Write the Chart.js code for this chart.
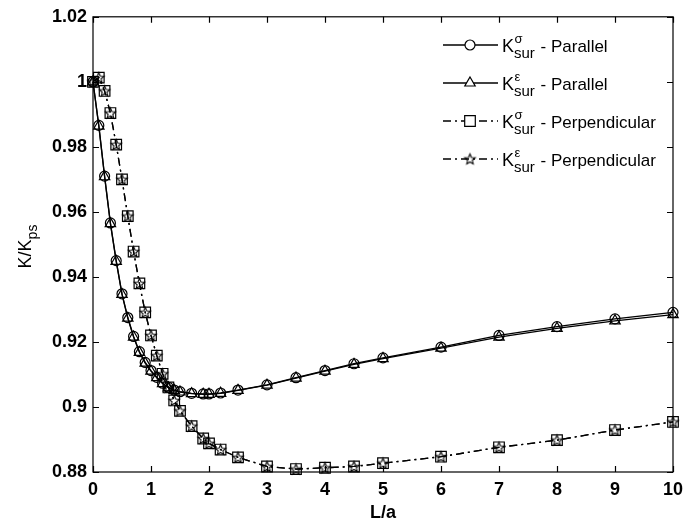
<!DOCTYPE html>
<html>
<head>
<meta charset="utf-8">
<script src="https://cdn.jsdelivr.net/npm/chart.js@4/dist/chart.umd.min.js"></script>
<style>
  html, body { margin: 0; padding: 0; background: #fff; }
  #wrap { position: relative; width: 694px; height: 521px; }
</style>
</head>
<body>
<div id="wrap"><canvas id="kChart" width="694" height="521"></canvas></div>
<script>
// L/a positions shared by all four curves
const xs = [0, 0.1, 0.2, 0.3, 0.4, 0.5, 0.6, 0.7, 0.8, 0.9, 1.0, 1.1, 1.2, 1.3, 1.4,
            1.5, 1.7, 1.9, 2.0, 2.2, 2.5, 3, 3.5, 4, 4.5, 5, 6, 7, 8, 9, 10];

// K/Kps values
const sigmaParallel = [1.0, 0.9866, 0.971, 0.9566, 0.945, 0.9348, 0.9275, 0.9217, 0.917, 0.9137,
                       0.9112, 0.9091, 0.9073, 0.906, 0.9052, 0.9047, 0.9042, 0.904, 0.904, 0.9043,
                       0.9052, 0.9068, 0.909, 0.9112, 0.9133, 0.9151, 0.9184, 0.922, 0.9247, 0.9271, 0.9291];
const epsParallel = [1.0, 0.9864, 0.9708, 0.9564, 0.9448, 0.9346, 0.9273, 0.9215, 0.9168, 0.9135,
                     0.911, 0.909, 0.9072, 0.9059, 0.9051, 0.9046, 0.9041, 0.9039, 0.9039, 0.9042,
                     0.9051, 0.9067, 0.9089, 0.911, 0.9131, 0.9149, 0.9181, 0.9215, 0.9242, 0.9265, 0.9284];
const sigmaPerp = [1.0, 1.0013, 0.9972, 0.9904, 0.9807, 0.970, 0.9587, 0.9478, 0.938, 0.9291,
                   0.922, 0.9158, 0.9102, 0.906, 0.902, 0.8988, 0.8941, 0.8903, 0.8888, 0.8869,
                   0.8845, 0.8817, 0.8809, 0.8813, 0.8817, 0.8827, 0.8847, 0.8876, 0.8898, 0.8929, 0.8954];
const epsPerp = [1.0, 1.0013, 0.9972, 0.9904, 0.9807, 0.970, 0.9587, 0.9478, 0.938, 0.9291,
                 0.922, 0.9158, 0.9102, 0.906, 0.902, 0.8988, 0.8941, 0.8903, 0.8888, 0.8869,
                 0.8845, 0.8817, 0.8809, 0.8813, 0.8817, 0.8827, 0.8847, 0.8876, 0.8898, 0.8929, 0.8954];

const xTicks = [0, 1, 2, 3, 4, 5, 6, 7, 8, 9, 10];
const yTicks = [0.88, 0.9, 0.92, 0.94, 0.96, 0.98, 1, 1.02];

const DASH_DOT = [8, 4, 2, 4];
const tickFont = { family: "'Liberation Sans', Arial, sans-serif", size: 18, weight: 'bold' };

// open five-pointed star marker (Chart.js 'star' is an asterisk)
function makeStar(r) {
    const size = Math.ceil(r * 2 + 4);
    const c = document.createElement('canvas');
    c.width = size; c.height = size;
    const g = c.getContext('2d');
    const cx = size / 2, cy = size / 2 + 0.5;
    g.beginPath();
    for (let i = 0; i < 10; i++) {
        const rad = i % 2 === 0 ? r : r * 0.45;
        const ang = -Math.PI / 2 + i * Math.PI / 5;
        const px = cx + rad * Math.cos(ang), py = cy + rad * Math.sin(ang);
        if (i === 0) g.moveTo(px, py); else g.lineTo(px, py);
    }
    g.closePath();
    g.strokeStyle = '#000';
    g.lineWidth = 1.1;
    g.stroke();
    return c;
}
const starMarker = makeStar(5.5);

const legendItems = [
    { sup: 'σ', label: ' - Parallel', style: 'circle', radius: 5, dash: [] },
    { sup: 'ε', label: ' - Parallel', style: 'triangle', radius: 6, dash: [] },
    { sup: 'σ', label: ' - Perpendicular', style: 'rect', radius: 7.5, dash: DASH_DOT },
    { sup: 'ε', label: ' - Perpendicular', style: starMarker, radius: 5.5, dash: DASH_DOT }
];

function toPoints(ys) {
    return xs.map((x, i) => ({ x: x, y: ys[i] }));
}

function series(label, ys, style, radius, dash) {
    return {
        label: label,
        data: toPoints(ys),
        borderColor: '#000',
        borderWidth: 1.3,
        borderDash: dash,
        pointStyle: style,
        pointRadius: radius,
        pointBorderWidth: 1.2,
        pointBorderColor: '#000',
        pointBackgroundColor: 'rgba(255,255,255,0)',
        tension: 0,
        clip: false
    };
}

// Box frame with inward ticks on all four sides
const framePlugin = {
    id: 'frame',
    afterDraw(chart) {
        const { ctx, chartArea: a, scales } = chart;
        ctx.save();
        ctx.strokeStyle = '#000';
        ctx.lineWidth = 1.2;
        ctx.setLineDash([]);
        ctx.strokeRect(a.left, a.top, a.right - a.left, a.bottom - a.top);
        ctx.beginPath();
        xTicks.forEach(v => {
            const px = Math.round(scales.x.getPixelForValue(v)) + 0.5;
            ctx.moveTo(px, a.bottom); ctx.lineTo(px, a.bottom - 6);
            ctx.moveTo(px, a.top); ctx.lineTo(px, a.top + 6);
        });
        yTicks.forEach(v => {
            const py = Math.round(scales.y.getPixelForValue(v)) + 0.5;
            ctx.moveTo(a.left, py); ctx.lineTo(a.left + 6, py);
            ctx.moveTo(a.right, py); ctx.lineTo(a.right - 6, py);
        });
        ctx.stroke();
        ctx.restore();
    }
};

// K with super/subscripts, returns the x after the subscript block
function drawK(ctx, x, y, sup, sub) {
    ctx.font = "18px 'Liberation Sans', Arial, sans-serif";
    ctx.fillText('K', x, y);
    const kx = x + ctx.measureText('K').width;
    ctx.font = "13px 'Liberation Sans', Arial, sans-serif";
    const w1 = ctx.measureText(sup).width;
    ctx.fillText(sup, kx + 0.5, y - 9);
    ctx.font = "15px 'Liberation Sans', Arial, sans-serif";
    const w2 = ctx.measureText(sub).width;
    ctx.fillText(sub, kx, y + 6);
    return kx + Math.max(w1, w2);
}

const labelsPlugin = {
    id: 'labels',
    afterDraw(chart) {
        const { ctx, chartArea: a } = chart;
        ctx.save();
        ctx.fillStyle = '#000';
        ctx.textBaseline = 'alphabetic';

        // legend
        legendItems.forEach((item, i) => {
            const ly = 45 + i * 38;
            ctx.strokeStyle = '#000';
            ctx.lineWidth = 1.3;
            ctx.setLineDash(item.dash);
            ctx.beginPath();
            ctx.moveTo(443, ly); ctx.lineTo(498, ly);
            ctx.stroke();
            ctx.setLineDash([]);
            ctx.lineWidth = 1.2;
            ctx.fillStyle = '#fff';
            Chart.helpers.drawPoint(ctx, { pointStyle: item.style, radius: item.radius, rotation: 0, borderWidth: 1.2 }, 470, ly);
            ctx.fillStyle = '#000';
            const tx = drawK(ctx, 502, ly + 7, item.sup, 'sur');
            ctx.font = "17px 'Liberation Sans', Arial, sans-serif";
            ctx.fillText(item.label, tx + 1, ly + 7);
        });

        // x title
        ctx.font = "bold 18px 'Liberation Sans', Arial, sans-serif";
        ctx.textAlign = 'center';
        ctx.fillText('L/a', (a.left + a.right) / 2, 518);

        // y title
        ctx.save();
        ctx.translate(31, (a.top + a.bottom) / 2 + 24);
        ctx.rotate(-Math.PI / 2);
        ctx.textAlign = 'left';
        ctx.font = "18px 'Liberation Sans', Arial, sans-serif";
        ctx.fillText('K/K', 0, 0);
        const w = ctx.measureText('K/K').width;
        ctx.font = "14px 'Liberation Sans', Arial, sans-serif";
        ctx.fillText('ps', w, 6);
        ctx.restore();

        ctx.restore();
    }
};

const ctx = document.getElementById('kChart').getContext('2d');
new Chart(ctx, {
    type: 'line',
    data: {
        datasets: [
            series('Ksur sigma - Parallel', sigmaParallel, 'circle', 5, []),
            series('Ksur eps - Parallel', epsParallel, 'triangle', 6, []),
            series('Ksur sigma - Perpendicular', sigmaPerp, 'rect', 7.5, DASH_DOT),
            series('Ksur eps - Perpendicular', epsPerp, starMarker, 5.5, DASH_DOT)
        ]
    },
    options: {
        responsive: false,
        animation: false,
        layout: { padding: { top: 15, right: 21, left: 0, bottom: 0 } },
        plugins: { legend: { display: false }, tooltip: { enabled: false } },
        scales: {
            x: {
                type: 'linear',
                min: 0,
                max: 10,
                afterFit: s => { s.height = 49; },
                afterBuildTicks: s => { s.ticks = xTicks.map(v => ({ value: v })); },
                grid: { display: false, drawTicks: false },
                border: { display: false },
                ticks: { color: '#000', font: tickFont, padding: 7, maxRotation: 0 }
            },
            y: {
                type: 'linear',
                min: 0.88,
                max: 1.02,
                afterFit: s => { s.width = 93; },
                afterBuildTicks: s => { s.ticks = yTicks.map(v => ({ value: v })); },
                grid: { display: false, drawTicks: false },
                border: { display: false },
                ticks: {
                    color: '#000',
                    font: tickFont,
                    padding: 6,
                    callback: v => String(+v.toFixed(2))
                }
            }
        }
    },
    plugins: [framePlugin, labelsPlugin]
});
</script>
</body>
</html>
